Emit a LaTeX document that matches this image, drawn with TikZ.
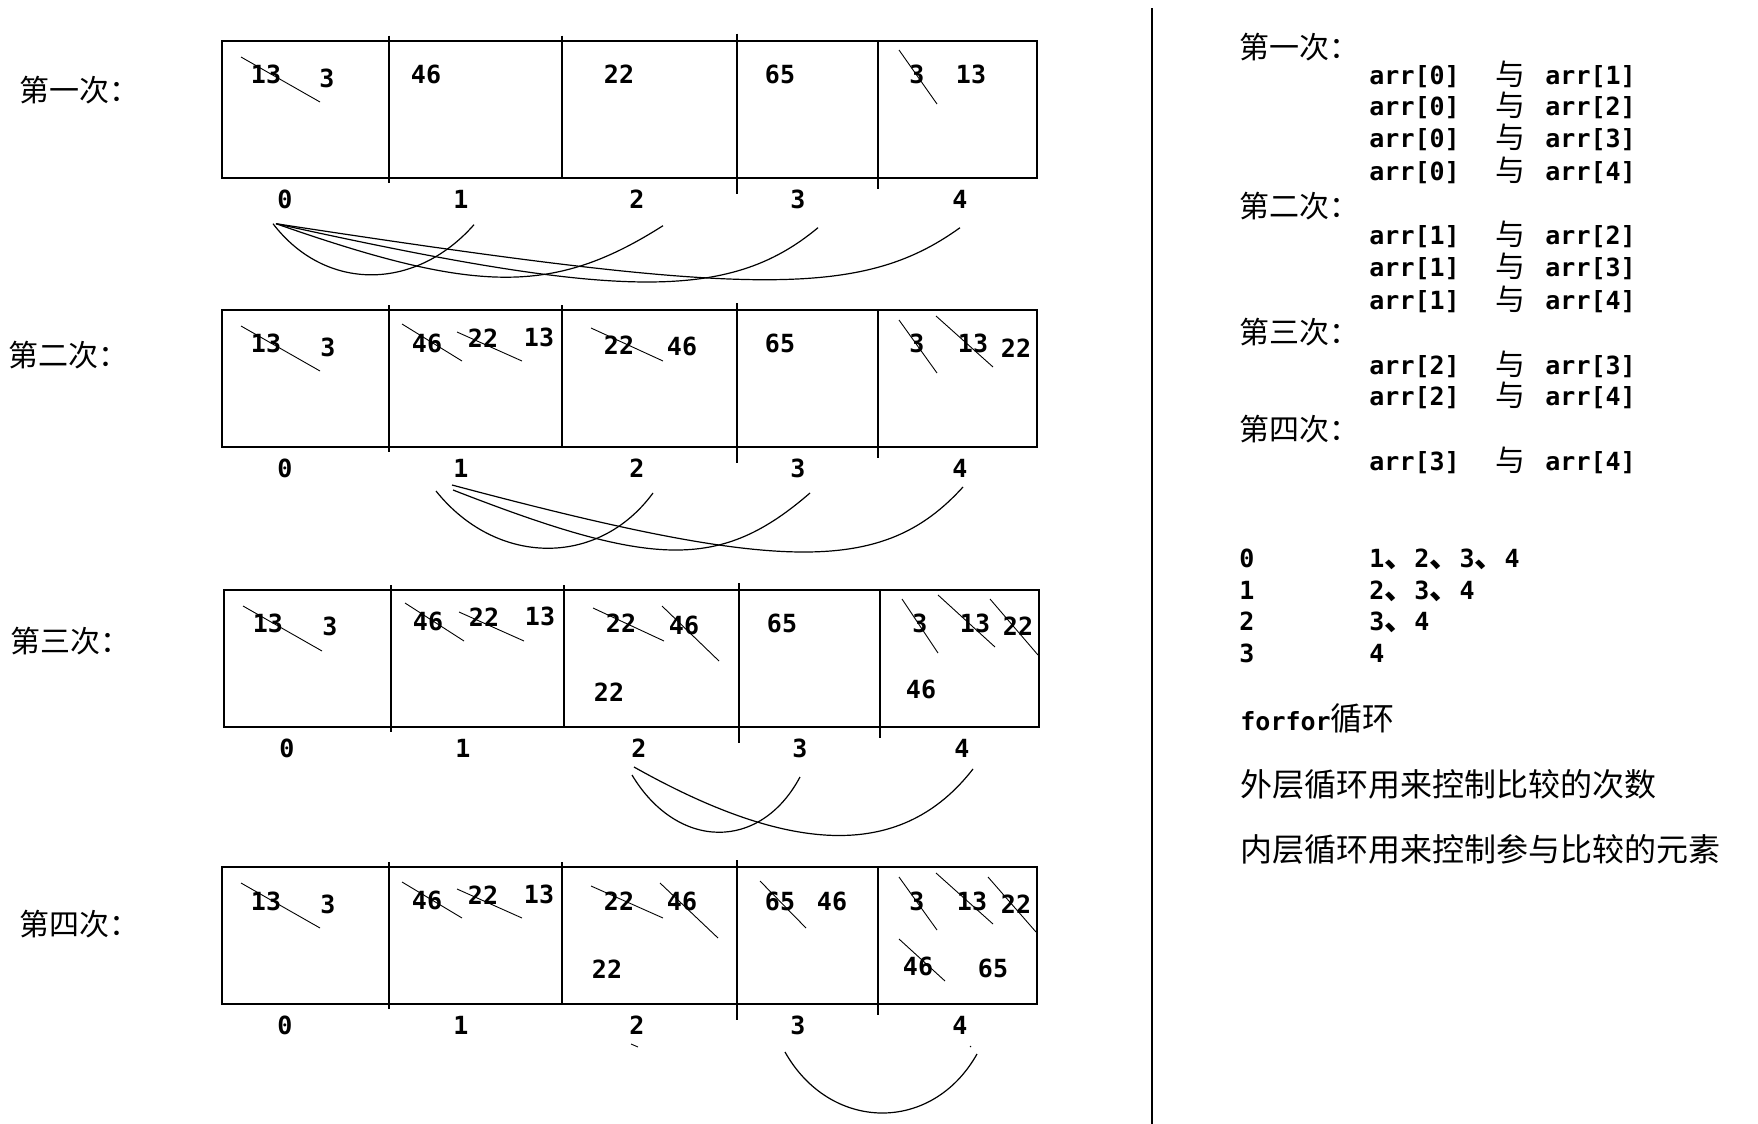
\documentclass[tikz,border=0pt]{standalone}
\usepackage{fontspec}
\setmonofont{DejaVu Sans Mono}
\newfontfamily\cjk{Noto Sans CJK SC}
\newcommand{\dunhao}{{\cjk\fontsize{15}{18}\selectfont 、}}
\begin{document}
\begin{tikzpicture}[x=0.5pt,y=-0.5pt,
    num/.style={font=\ttfamily\bfseries\fontsize{12.5}{14}\selectfont,
        inner sep=0pt,text height=0.76em,text depth=0.13em},
    lbl/.style={font=\cjk\fontsize{15}{18}\selectfont,
        inner sep=0pt,anchor=west,text height=0.88em,text depth=0.12em},
    note/.style={lbl,font=\cjk\fontsize{16}{19}\selectfont},
    cellbox/.style={line width=1pt},
    strikeout/.style={line width=0.45pt},
    link/.style={line width=0.6pt}]
\useasboundingbox (0,0) rectangle (1758,1124);
% the four passes: frame, dividers, indices
\foreach \ty/\dx/\n/\lx/\ly/\lab in {40.7/0/1/19/94/第一次, 310/0/2/8/359/第二次,
        590/2/3/10/645/第三次, 867/0/4/19/928/第四次} {
    \draw[cellbox] (222+\dx,\ty) rectangle (1037+\dx,\ty+137);
    \draw[cellbox] (389+\dx,\ty-5) -- (389+\dx,\ty+142);
    \draw[cellbox] (562+\dx,\ty-5) -- (562+\dx,\ty+137);
    \draw[cellbox] (737+\dx,\ty-7) -- (737+\dx,\ty+153);
    \draw[cellbox] (878+\dx,\ty) -- (878+\dx,\ty+148);
    \foreach \k/\x in {0/285,1/461,2/637,3/798,4/960}
        \node[num] (i\n-\k) at (\x+\dx,\ty+161) {\k};
    \node[lbl] (pass\n) at (\lx,\ly) {\lab：};
}
% cell values
\foreach \x/\y/\v [count=\c] in {266/77/13, 327/81/3, 426/77/46, 619/77/22,
        780/77/65, 917/77/3, 971/77/13}
    \node[num] (v1-\c) at (\x,\y) {\v};
\foreach \x/\y/\v [count=\c] in {266/346/13, 328/350/3, 427/346/46, 483/341/22,
        539/340/13, 619/348/22, 682/349/46, 780/346/65, 917/346/3, 973/346/13,
        1016/351/22}
    \node[num] (v2-\c) at (\x,\y) {\v};
\foreach \x/\y/\v [count=\c] in {268/626/13, 330/629/3, 428/624/46, 484/620/22,
        540/619/13, 621/626/22, 684/628/46, 609/695/22, 782/626/65, 920/626/3,
        975/626/13, 1018/629/22, 921/692/46}
    \node[num] (v3-\c) at (\x,\y) {\v};
\foreach \x/\y/\v [count=\c] in {266/904/13, 328/907/3, 427/903/46, 483/898/22,
        539/897/13, 619/904/22, 682/904/46, 607/972/22, 780/904/65, 832/904/46,
        917/904/3, 972/904/13, 1016/907/22, 918/969/46, 993/971/65}
    \node[num] (v4-\c) at (\x,\y) {\v};
% crossed-out values
\foreach \a/\b/\c/\e in {241/57/320/102, 899/50/937/104,
        241/326/320/371, 402/324/462/361, 457/332/522/361, 591/328/663/361,
        899/320/937/373, 936/316/993/367,
        243/606/322/651, 405/603/464/641, 459/612/524/641, 593/608/664/641,
        662/606/719/661, 902/599/938/653, 938/595/995/647, 990/599/1038/655,
        241/883/320/928, 402/882/462/918, 457/889/522/918, 591/886/663/918,
        660/883/718/938, 760/881/806/928, 899/877/937/930, 936/873/993/924,
        988/877/1036/932, 899/939/945/981}
    \draw[strikeout] (\a,\b) -- (\c,\e);
\draw[strikeout] (631,1044) -- (638,1047);
\draw[strikeout] (970,1046) -- (971,1047);
% comparisons
\draw[link] ([shift={(-12,22)}]i1-0.center) .. controls +(52,68) and +(-59,67) .. ([shift={(13,23)}]i1-1.center);
\draw[link] ([shift={(-9,22)}]i1-0.center) .. controls +(200,70) and +(-110,70) .. ([shift={(26,24)}]i1-2.center);
\draw[link] ([shift={(-9,22)}]i1-0.center) .. controls +(340,75) and +(-90,75) .. ([shift={(20,26)}]i1-3.center);
\draw[link] ([shift={(-9,22)}]i1-0.center) .. controls +(470,72) and +(-100,72) .. ([shift={(0,26)}]i1-4.center);
\draw[link] ([shift={(-25,20)}]i2-1.center) .. controls +(60,75) and +(-55,75) .. ([shift={(16,22)}]i2-2.center);
\draw[link] ([shift={(-8,19)}]i2-1.center) .. controls +(200,78) and +(-90,78) .. ([shift={(12,22)}]i2-3.center);
\draw[link] ([shift={(-9,14)}]i2-1.center) .. controls +(330,88) and +(-80,88) .. ([shift={(3,16)}]i2-4.center);
\draw[link] ([shift={(-7,24)}]i3-2.center) .. controls +(45,75) and +(-40,75) .. ([shift={(0,26)}]i3-3.center);
\draw[link] ([shift={(-5,16)}]i3-2.center) .. controls +(160,90) and +(-70,90) .. ([shift={(11,18)}]i3-4.center);
\draw[link] ([shift={(-13,24)}]i4-3.center) .. controls +(45,80) and +(-45,80) .. ([shift={(17,26)}]i4-4.center);
% right panel
\draw[cellbox] (1152,8) -- (1152,1124);
\node[lbl] (h1) at (1239,51) {第一次：};
\node[lbl] (h2) at (1239,210) {第二次：};
\node[lbl] (h3) at (1239,336) {第三次：};
\node[lbl] (h4) at (1239,433) {第四次：};
\foreach \a/\b/\y [count=\c] in {0/1/78, 0/2/109, 0/3/141, 0/4/174, 1/2/238,
        1/3/270, 1/4/303, 2/3/368, 2/4/399, 3/4/464} {
    \node[num,anchor=west] (pa\c) at (1369,\y) {arr[\a]};
    \node[lbl,anchor=center] (yu\c) at (1510,\y) {与};
    \node[num,anchor=west] (pb\c) at (1545,\y) {arr[\b]};
}
\node[num] (o0) at (1247,561) {0};
\node[num] (o1) at (1247,593) {1};
\node[num] (o2) at (1247,624) {2};
\node[num] (o3) at (1247,656) {3};
\node[num,anchor=west] (l0) at (1369,561) {1\dunhao 2\dunhao 3\dunhao 4};
\node[num,anchor=west] (l1) at (1369,593) {2\dunhao 3\dunhao 4};
\node[num,anchor=west] (l2) at (1369,624) {3\dunhao 4};
\node[num,anchor=west] (l3) at (1369,656) {4};
\node[note] (loop) at (1240,723) {{\ttfamily\bfseries\fontsize{12.5}{14}\selectfont forfor}循环};
\node[note] (outer) at (1240,789) {外层循环用来控制比较的次数};
\node[note] (inner) at (1240,854) {内层循环用来控制参与比较的元素};
\end{tikzpicture}
\end{document}
